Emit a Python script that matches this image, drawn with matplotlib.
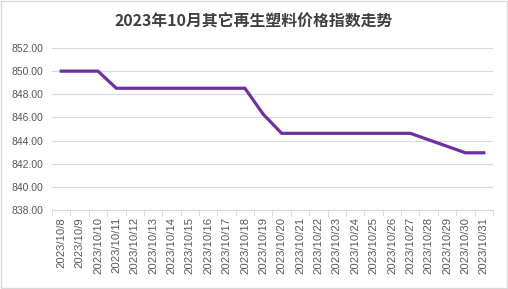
import numpy as np
from matplotlib import pyplot as plt
from matplotlib.patches import Rectangle

dates = [f"2023/10/{d}" for d in range(8, 32)]
values = [850.00, 850.00, 850.00, 848.52, 848.52, 848.52, 848.52, 848.52,
          848.52, 848.52, 848.52, 846.27, 844.63, 844.63, 844.63, 844.63,
          844.63, 844.63, 844.63, 844.63, 844.07, 843.51, 842.95, 842.95]
title = "2023年10月其它再生塑料价格指数走势"
y_ticks = np.arange(838, 853, 2)

plt.rcParams['font.family'] = ['Noto Sans CJK SC', 'DejaVu Sans']

fig = plt.figure(figsize=(5.08, 2.89), dpi=100)
ax = fig.add_axes([0.1024, 0.273, 0.868, 0.561])

x = np.arange(len(dates))
ax.plot(x, values, color="#7030A0", linewidth=2.3, solid_joinstyle="miter")

ax.set_xlim(-0.5, len(dates) - 0.5)
ax.set_ylim(838, 852)
ax.set_yticks(y_ticks)
ax.set_yticklabels([f"{v:.2f}" for v in y_ticks], fontsize=7.5, color="#595959",
                   family=["Liberation Sans"])
ax.yaxis.grid(True, color="#D9D9D9", linewidth=0.8)
ax.set_axisbelow(True)
ax.tick_params(axis="y", length=0, pad=6)

# categories, tick marks sit on the boundaries
ax.set_xticks(x)
ax.set_xticklabels(dates, rotation=90, fontsize=8.1, color="#595959",
                   family=["Liberation Sans"])
ax.set_xticks(np.arange(-0.5, len(dates)), minor=True)
ax.tick_params(axis="x", which="major", length=0, pad=5)
ax.tick_params(axis="x", which="minor", length=4, color="#D9D9D9")

for side in ["top", "right", "left"]:
    ax.spines[side].set_visible(False)
ax.spines["bottom"].set_color("#D9D9D9")

fig.text(0.5, 0.93, title, ha="center", va="center", fontsize=11.4,
         fontweight="bold", color="#404040")

fig.patches.append(Rectangle((0.002, 0.003), 0.996, 0.994, transform=fig.transFigure,
                             fill=False, edgecolor="#D9D9D9", linewidth=1))

fig.savefig("out.png", dpi=100)
